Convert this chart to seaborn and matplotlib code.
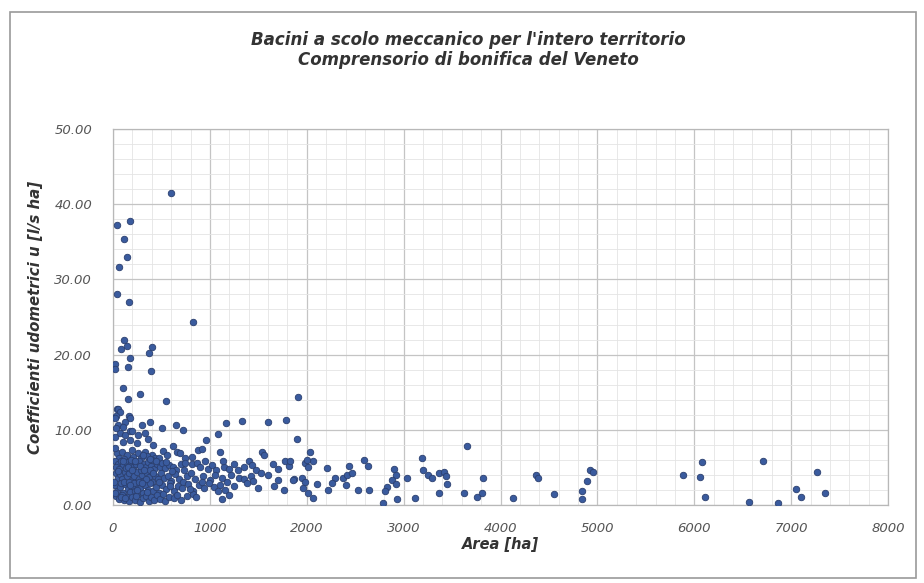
import matplotlib
matplotlib.use("Agg")
import matplotlib.pyplot as plt
import seaborn as sns
import pandas as pd
from matplotlib.ticker import MultipleLocator, FormatStrFormatter
from matplotlib.patches import Rectangle

# ---- data: Area [ha] and coefficient u [l/s ha] ----
area_high = [600, 180, 40, 110, 140, 60, 40, 170, 830, 115, 80, 140, 400, 370, 180,
             25, 25, 155, 390, 105, 280, 150, 545, 1910]
u_high = [41.5, 37.8, 37.2, 35.4, 33.0, 31.7, 28.1, 27.0, 24.4, 22.0, 20.8, 21.2, 21.0, 20.2, 19.5,
          18.8, 18.1, 18.4, 17.8, 15.6, 14.7, 14.1, 13.8, 14.4]

area_mid = [40, 55, 75, 35, 160, 175, 125, 20, 300, 382, 510, 648, 722, 1165, 1335, 1605,
            1785, 1080, 960, 1900, 3650, 55, 105, 175, 72, 125, 193, 260, 330, 365, 105,
            175, 245, 415, 22, 30]
u_mid = [12.8, 12.7, 12.4, 11.8, 11.8, 11.6, 11.1, 11.6, 10.6, 11.0, 10.2, 10.6, 10.0, 10.9, 11.2, 11.0,
         11.3, 9.5, 8.6, 8.8, 7.9, 10.7, 10.4, 9.9, 9.6, 9.3, 9.8, 9.3, 9.6, 8.8, 8.4,
         8.7, 8.2, 8.0, 9.0, 10.2]

area_b6 = [38, 90, 140, 193, 260, 330, 400, 433, 620, 657, 690, 880, 915, 1104, 1534, 1562,
           2033, 20, 60, 115, 210, 290, 355, 470, 520, 560, 745, 820]
u_b6 = [6.9, 7.1, 6.7, 7.3, 6.9, 7.1, 6.7, 6.2, 7.8, 7.1, 6.9, 7.3, 7.4, 7.1, 7.1, 6.7,
        7.0, 7.6, 6.3, 6.1, 6.4, 6.2, 6.5, 6.3, 7.2, 6.6, 6.2, 6.4]

area_b45 = [25, 55, 80, 105, 130, 160, 185, 210, 240, 265, 290, 315, 340, 365, 390, 420,
            450, 480, 505, 540, 580, 615, 650, 700, 743, 812, 864, 900, 950, 980, 1020, 1060,
            1150, 1200, 1250, 1290, 1350, 1400, 1430, 1480, 1650, 1700, 1780, 1820, 1827, 1981,
            2016, 2067, 2005, 2205, 2439, 2590, 2635, 2900, 3203, 3185, 4923, 4957, 6075, 6705]
u_b45 = [5.8, 5.5, 5.9, 5.3, 5.7, 5.2, 5.6, 5.0, 5.4, 5.8, 5.1, 5.5, 5.0, 5.7, 5.2, 4.8,
         5.4, 5.0, 5.6, 4.9, 5.3, 5.1, 4.7, 5.4, 5.6, 5.5, 5.6, 5.0, 5.8, 4.8, 5.3, 4.6,
         5.1, 4.8, 5.5, 4.6, 5.0, 5.9, 5.3, 4.7, 5.4, 4.8, 5.9, 5.2, 5.8, 5.6,
         5.1, 5.8, 6.0, 4.9, 5.2, 6.0, 5.2, 4.8, 4.7, 6.2, 4.7, 4.4, 5.7, 5.9]

area_b3 = [30, 50, 75, 95, 120, 145, 170, 195, 220, 245, 270, 300, 320, 350, 375, 400,
           430, 460, 500, 530, 570, 600, 640, 680, 720, 760, 800, 850, 930, 1000, 1050, 1130,
           1180, 1300, 1350, 1420, 1450, 1530, 1600, 1700, 1870, 1950, 1861, 1981, 2291, 2377,
           2411, 2462, 2921, 2876, 3037, 3254, 3289, 3368, 3416, 3437, 3822, 4365, 4389, 4895,
           5879, 6058, 7272]
u_b3 = [4.3, 3.6, 4.1, 3.4, 4.4, 3.8, 4.2, 3.3, 3.9, 4.4, 3.5, 4.0, 3.2, 4.3, 3.7, 3.1,
        3.9, 3.4, 4.2, 3.6, 3.9, 3.2, 4.1, 3.5, 3.0, 3.8, 4.3, 3.4, 3.9, 3.3, 4.0, 3.6,
        3.1, 3.6, 3.4, 3.8, 3.2, 4.3, 4.0, 3.3, 3.5, 3.6, 3.3, 3.1, 3.6, 3.6,
        4.0, 4.2, 4.0, 3.3, 3.6, 4.0, 3.6, 4.3, 4.4, 3.8, 3.6, 4.0, 3.6, 3.2,
        4.0, 3.7, 4.4]

area_b2 = [20, 45, 70, 100, 125, 150, 180, 205, 230, 255, 280, 310, 335, 360, 385, 410,
           440, 470, 510, 550, 590, 630, 670, 710, 770, 830, 890, 940, 990, 1040, 1100, 1160,
           1250, 1380, 1500, 1660, 1760, 2102, 1964, 2016, 2257, 2222, 2405, 2532, 2646, 2921,
           2825, 2807, 3450, 3368, 3622, 3805, 4554, 4837, 7055, 7348]
u_b2 = [2.6, 1.9, 2.4, 1.6, 2.8, 2.1, 1.7, 2.5, 1.9, 2.7, 2.2, 1.6, 2.6, 2.0, 2.9, 1.8,
        2.4, 1.6, 2.7, 2.1, 2.9, 1.8, 2.5, 2.2, 2.8, 1.8, 2.6, 2.2, 2.9, 2.4, 2.7, 2.0,
        2.5, 2.9, 2.2, 2.5, 2.0, 2.8, 2.2, 1.6, 2.9, 2.0, 2.7, 2.0, 2.0, 2.8,
        2.4, 1.8, 2.8, 1.6, 1.6, 1.6, 1.5, 1.9, 2.1, 1.6]

area_b1 = [30, 60, 90, 115, 140, 165, 195, 225, 250, 275, 305, 340, 370, 395, 425, 455,
           490, 540, 580, 625, 700, 760, 830, 1121, 1200, 2067, 2783, 2928, 3117, 3753, 4131,
           4837, 6109, 6567, 6866, 7107]
u_b1 = [1.2, 0.8, 1.3, 0.6, 1.1, 0.5, 1.0, 0.7, 1.3, 0.4, 0.9, 1.2, 0.5, 1.0, 0.7, 1.3,
        0.8, 0.5, 1.1, 0.9, 0.6, 1.2, 1.5, 0.8, 1.3, 0.9, 0.3, 0.8, 0.9, 1.1, 0.9,
        0.8, 1.0, 0.4, 0.2, 1.0]

area_core = [15, 35, 65, 85, 110, 135, 160, 185, 215, 240, 265, 285, 310, 345, 380, 405,
             20, 48, 78, 102, 128, 152, 175, 200, 228, 252, 278, 298, 325, 355, 380, 410,
             445, 475, 515, 545, 585, 610, 660, 730, 790, 860, 920, 1080, 1140, 1220]
u_core = [3.0, 5.0, 4.8, 2.9, 3.0, 4.9, 3.1, 6.0, 2.9, 1.2, 3.0, 4.7, 6.6, 3.5, 4.6, 6.0,
          1.6, 4.5, 1.1, 5.9, 0.9, 5.0, 2.6, 4.6, 5.9, 2.0, 5.2, 2.9, 4.6, 1.7, 6.1, 4.2,
          5.9, 3.0, 1.4, 5.7, 2.5, 4.5, 1.3, 4.6, 2.1, 1.0, 3.1, 1.9, 5.9, 4.0]

x_ticks = [0, 1000, 2000, 3000, 4000, 5000, 6000, 7000, 8000]
y_ticks = [0, 10, 20, 30, 40, 50]

title_lines = ["Bacini a scolo meccanico per l'intero territorio",
               "Comprensorio di bonifica del Veneto"]
x_label = "Area [ha]"
y_label = "Coefficienti udometrici u [l/s ha]"

df = pd.DataFrame({
    "area": area_high + area_mid + area_b6 + area_b45 + area_b3 + area_b2 + area_b1 + area_core,
    "u": u_high + u_mid + u_b6 + u_b45 + u_b3 + u_b2 + u_b1 + u_core,
})

sns.set_theme(style="white")
plt.rcParams["font.family"] = ["DejaVu Sans"]

fig = plt.figure(figsize=(9.24, 5.83), dpi=100)
fig.patch.set_facecolor("white")
ax = fig.add_axes([113 / 924, 1 - 505 / 583, 775 / 924, 376 / 583])

sns.scatterplot(data=df, x="area", y="u", ax=ax, s=22, color="#3a5b9e",
                edgecolor="#2b3f6e", linewidth=0.6, zorder=3, legend=False)

ax.set_xlim(0, 8000)
ax.set_ylim(0, 50)
ax.xaxis.set_major_locator(MultipleLocator(1000))
ax.xaxis.set_minor_locator(MultipleLocator(200))
ax.yaxis.set_major_locator(MultipleLocator(10))
ax.yaxis.set_minor_locator(MultipleLocator(2))
ax.set_xticks(x_ticks)
ax.set_yticks(y_ticks)
ax.yaxis.set_major_formatter(FormatStrFormatter("%.2f"))
ax.grid(which="major", color="#c4c4c4", linewidth=0.9, zorder=0)
ax.grid(which="minor", color="#e4e4e4", linewidth=0.6, zorder=0)
ax.set_axisbelow(True)
for sp in ax.spines.values():
    sp.set_color("#b8b8b8")
    sp.set_linewidth(0.9)
ax.tick_params(which="both", length=0)
ax.tick_params(axis="y", pad=15, labelsize=9.5, labelcolor="#555555")
ax.tick_params(axis="x", pad=12, labelsize=9.5, labelcolor="#555555")
for lab in ax.get_xticklabels() + ax.get_yticklabels():
    lab.set_fontstyle("italic")

ax.set_xlabel(x_label, fontsize=10.5, fontweight="bold", fontstyle="italic",
              color="#333333", labelpad=2)
ax.set_ylabel(y_label, fontsize=10.8, fontweight="bold", fontstyle="italic",
              color="#333333", labelpad=8)

fig.text(468 / 924, 1 - 40 / 583, title_lines[0], ha="center", va="center",
         fontsize=12, fontweight="bold", fontstyle="italic", color="#333333")
fig.text(468 / 924, 1 - 60 / 583, title_lines[1], ha="center", va="center",
         fontsize=12, fontweight="bold", fontstyle="italic", color="#333333")

fig.patches.append(Rectangle((10 / 924, 5 / 583), 906 / 924, 566 / 583,
                             transform=fig.transFigure, fill=False,
                             edgecolor="#9a9a9a", linewidth=1.2))

fig.savefig("out.png", dpi=100, facecolor="white")
